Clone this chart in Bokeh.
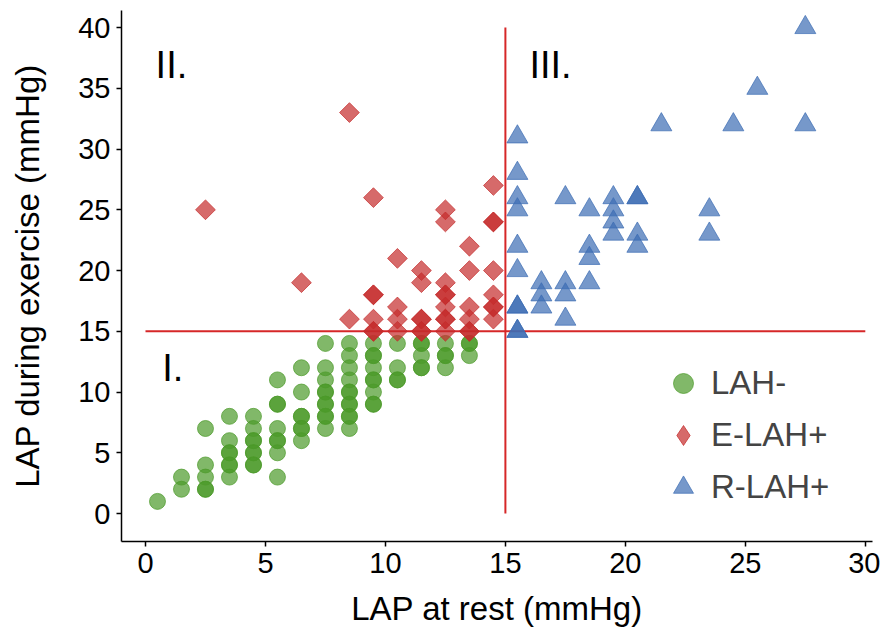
import math
from bokeh.plotting import figure
from bokeh.models import ColumnDataSource, Legend, LegendItem, Label, FixedTicker
from bokeh.embed import file_html
from bokeh.resources import INLINE

# ---- data ----
lah_x = [0.5, 1.5, 1.5,
         2.5, 2.5, 2.5, 2.5, 2.5,
         3.5, 3.5, 3.5, 3.5, 3.5, 3.5, 3.5,
         4.5, 4.5, 4.5, 4.5, 4.5, 4.5, 4.5, 4.5,
         5.5, 5.5, 5.5, 5.5, 5.5, 5.5, 5.5, 5.5,
         6.5, 6.5, 6.5, 6.5, 6.5, 6.5, 6.5,
         7.5, 7.5, 7.5, 7.5, 7.5, 7.5, 7.5, 7.5, 7.5, 7.5,
         8.5, 8.5, 8.5, 8.5, 8.5, 8.5, 8.5, 8.5, 8.5, 8.5, 8.5,
         9.5, 9.5, 9.5, 9.5, 9.5, 9.5, 9.5, 9.5, 9.5,
         10.5, 10.5, 10.5, 10.5,
         11.5, 11.5, 11.5, 11.5, 11.5,
         12.5, 12.5, 12.5, 12.5,
         13.5, 13.5, 13.5]
lah_y = [1, 3, 2,
         7, 4, 3, 2, 2,
         8, 6, 5, 5, 4, 4, 3,
         8, 7, 6, 6, 5, 5, 4, 4,
         11, 9, 9, 7, 6, 6, 5, 3,
         12, 10, 8, 8, 7, 7, 6,
         14, 12, 11, 10, 10, 9, 9, 8, 8, 7,
         14, 13, 12, 11, 10, 10, 9, 9, 8, 8, 7,
         14, 13, 13, 12, 11, 11, 10, 9, 9,
         14, 12, 11, 11,
         14, 14, 13, 12, 12,
         14, 13, 13, 12,
         14, 14, 13]

elah_x = [2.5, 6.5, 8.5, 8.5,
          9.5, 9.5, 9.5, 9.5, 9.5, 9.5,
          10.5, 10.5, 10.5, 10.5,
          11.5, 11.5, 11.5, 11.5, 11.5, 11.5,
          12.5, 12.5, 12.5, 12.5, 12.5, 12.5, 12.5, 12.5, 12.5,
          13.5, 13.5, 13.5, 13.5, 13.5, 13.5,
          14.5, 14.5, 14.5, 14.5, 14.5, 14.5, 14.5, 14.5]
elah_y = [25, 19, 33, 16,
          26, 18, 18, 16, 15, 15,
          21, 17, 16, 15,
          20, 19, 16, 16, 15, 15,
          25, 24, 19, 18, 18, 17, 16, 16, 15,
          22, 20, 17, 16, 15, 15,
          27, 24, 24, 20, 18, 17, 17, 16]

rlah_x = [15.5, 15.5, 15.5, 15.5, 15.5, 15.5, 15.5, 15.5, 15.5, 15.5,
          16.5, 16.5, 16.5,
          17.5, 17.5, 17.5, 17.5,
          18.5, 18.5, 18.5, 18.5,
          19.5, 19.5, 19.5, 19.5,
          20.5, 20.5, 20.5, 20.5,
          21.5, 23.5, 23.5, 24.5, 25.5, 27.5, 27.5]
rlah_y = [31, 28, 26, 25, 22, 20, 17, 17, 15, 15,
          19, 18, 17,
          26, 19, 18, 16,
          25, 22, 21, 19,
          26, 25, 24, 23,
          26, 26, 23, 22,
          32, 25, 23, 32, 35, 40, 32]

group_names = ["LAH-", "E-LAH+", "R-LAH+"]
x_ticks = [0, 5, 10, 15, 20, 25, 30]
y_ticks = [0, 5, 10, 15, 20, 25, 30, 35, 40]
threshold = 15
hline_extent = [0, 30]
vline_extent = [0, 40]
quadrant_text = ["I.", "II.", "III."]
quadrant_x = [0.7, 0.42, 16.0]
quadrant_y = [12.0, 36.95, 36.95]

FONT = "Liberation Sans"

p = figure(frame_width=751, frame_height=531,
           x_range=(-1.0, 30.3), y_range=(-2.3, 41.4),
           min_border_left=121, min_border_right=8,
           min_border_top=10, min_border_bottom=90,
           output_backend="svg", toolbar_location=None,
           background_fill_color="white", border_fill_color="white")
p.outline_line_color = None
p.xgrid.visible = False
p.ygrid.visible = False

# reference lines
p.segment(x0=[hline_extent[0]], y0=[threshold], x1=[hline_extent[1]], y1=[threshold],
          line_color="#D62728", line_width=2)
p.segment(x0=[threshold], y0=[vline_extent[0]], x1=[threshold], y1=[vline_extent[1]],
          line_color="#D62728", line_width=2)

green = "#4C9A2A"
red = "#C42B2B"
blue = "#3C6CB4"

elah_src = ColumnDataSource(dict(x=elah_x, y=elah_y))

r1 = p.scatter(x="x", y="y", source=ColumnDataSource(dict(x=lah_x, y=lah_y)),
               marker="circle", size=16, fill_color=green, fill_alpha=0.7,
               line_color=green, line_alpha=0.7, line_width=1)
r2 = p.scatter(x="x", y="y", source=elah_src,
               marker="square", angle=math.pi / 4, size=14, fill_color=red, fill_alpha=0.7,
               line_color=red, line_alpha=0.7, line_width=1)
r3 = p.scatter(x="x", y="y", source=ColumnDataSource(dict(x=rlah_x, y=rlah_y)),
               marker="triangle", size=21, fill_color=blue, fill_alpha=0.7,
               line_color=blue, line_alpha=0.7, line_width=1)
# legend key for the diamonds (legend glyphs ignore angle, so use a diamond marker there);
# hidden in the plot itself
r2_key = p.scatter(x="x", y="y", source=elah_src,
                   marker="diamond", size=14, fill_color=red, fill_alpha=0.7,
                   line_color=red, line_alpha=0.7, line_width=1, visible=False)

for t, qx, qy in zip(quadrant_text, quadrant_x, quadrant_y):
    p.add_layout(Label(x=qx, y=qy, text=t, text_font=FONT, text_font_size="38px",
                       text_color="black", text_align="left", text_baseline="middle"))

legend = Legend(items=[LegendItem(label=group_names[0], renderers=[r1]),
                       LegendItem(label=group_names[1], renderers=[r2_key]),
                       LegendItem(label=group_names[2], renderers=[r3])],
                location=(537, 29), padding=0, margin=0, spacing=2,
                glyph_width=50, glyph_height=50, label_standoff=3,
                label_text_font=FONT, label_text_font_size="33px",
                inactive_fill_alpha=0,
                border_line_color=None, background_fill_alpha=0)
p.add_layout(legend)

for ax in (p.xaxis[0], p.yaxis[0]):
    ax.axis_line_color = "black"
    ax.axis_line_width = 1.5
    ax.major_tick_line_color = "black"
    ax.major_tick_line_width = 1.5
    ax.major_tick_in = 0
    ax.major_tick_out = 5
    ax.minor_tick_line_color = None
    ax.major_label_text_font = FONT
    ax.major_label_text_font_size = "29px"
    ax.major_label_text_color = "black"
    ax.axis_label_text_font = FONT
    ax.axis_label_text_font_size = "33px"
    ax.axis_label_text_font_style = "normal"
    ax.axis_label_text_color = "black"

p.xaxis.ticker = FixedTicker(ticks=x_ticks)
p.yaxis.ticker = FixedTicker(ticks=y_ticks)
p.xaxis.axis_label = "LAP at rest (mmHg)"
p.yaxis.axis_label = "LAP during exercise (mmHg)"
p.xaxis.major_label_standoff = 6
p.yaxis.major_label_standoff = 6
p.xaxis.axis_label_standoff = 14
p.yaxis.axis_label_standoff = 29

open("out.html", "w").write(file_html(p, INLINE))
